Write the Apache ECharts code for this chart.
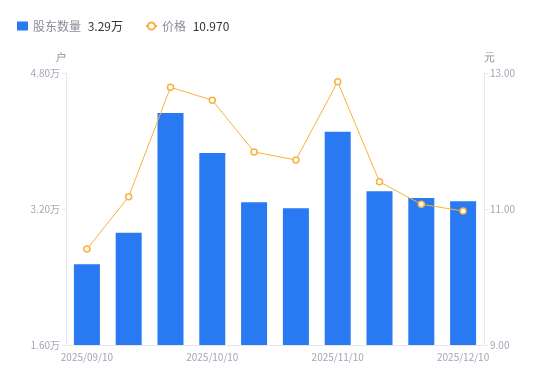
<!DOCTYPE html>
<html><head><meta charset="utf-8">
<script src="https://cdn.jsdelivr.net/npm/echarts@6/dist/echarts.min.js"></script>
<style>html,body{margin:0;padding:0;background:#fff}#c{width:550px;height:381px}</style>
</head><body><div id="c"></div>
<script>
var categories = ['2025/09/10','2025/09/19','2025/09/30','2025/10/10','2025/10/20','2025/10/31','2025/11/10','2025/11/20','2025/11/28','2025/12/10'];
var holders = [2.55, 2.92, 4.33, 3.86, 3.28, 3.21, 4.11, 3.41, 3.33, 3.29];
var prices = [10.41, 11.18, 12.79, 12.60, 11.84, 11.72, 12.87, 11.40, 11.07, 10.97];
var legendValues = {'股东数量':'3.29万','价格':'10.970'};

var chart = echarts.init(document.getElementById('c'));
var labelColor = '#a3a6b4';
var lineColor = '#e6e8ee';
chart.setOption({
  animation:false,
  legend:{
    left:12, top:15, itemGap:22, itemWidth:11, itemHeight:9,
    data:[{name:'股东数量', icon:'rect'},{name:'价格'}],
    formatter:function(n){return '{n|'+n+'}  {v|'+legendValues[n]+'}';},
    textStyle:{rich:{n:{color:'#8a8d99',fontSize:12,fontFamily:'Noto Sans CJK SC'},v:{color:'#333',fontSize:12,fontFamily:'Noto Sans CJK SC'}}}
  },
  grid:{left:66,right:66,top:73,bottom:36},
  xAxis:{
    type:'category', data:categories,
    axisLine:{lineStyle:{color:lineColor}},
    axisTick:{show:false},
    axisLabel:{color:labelColor,fontSize:10,interval:2,margin:7,fontFamily:'Noto Sans CJK SC'}
  },
  yAxis:[{
    type:'value', name:'户', min:1.6, max:4.8, interval:1.6,
    nameTextStyle:{color:'#8a8d99',fontSize:11,align:'right',padding:[0,0,0,0]},
    nameGap:10,
    axisLine:{show:true,lineStyle:{color:lineColor}},
    axisTick:{show:true,length:4,lineStyle:{color:lineColor}},
    splitLine:{show:false},
    axisLabel:{color:labelColor,fontSize:10,margin:6,fontFamily:'Noto Sans CJK SC',formatter:function(v){return v.toFixed(2)+'万';}}
  },{
    type:'value', name:'元', min:9, max:13, interval:2,
    nameTextStyle:{color:'#8a8d99',fontSize:11,align:'left'},
    nameGap:10,
    axisLine:{show:true,lineStyle:{color:lineColor}},
    axisTick:{show:true,length:4,lineStyle:{color:lineColor}},
    splitLine:{show:false},
    axisLabel:{color:labelColor,fontSize:10,margin:6,fontFamily:'Noto Sans CJK SC',formatter:function(v){return v.toFixed(2);}}
  }],
  series:[{
    name:'股东数量', type:'bar', data:holders, barWidth:26, yAxisIndex:0,
    itemStyle:{color:'#2979f2'}
  },{
    name:'价格', type:'line', data:prices, yAxisIndex:1,
    symbol:'circle', symbolSize:6, showAllSymbol:true,
    lineStyle:{color:'#f8b23c',width:1},
    itemStyle:{color:'#fff',borderColor:'#f8b23c',borderWidth:1.5}
  }]
});
</script></body></html>
